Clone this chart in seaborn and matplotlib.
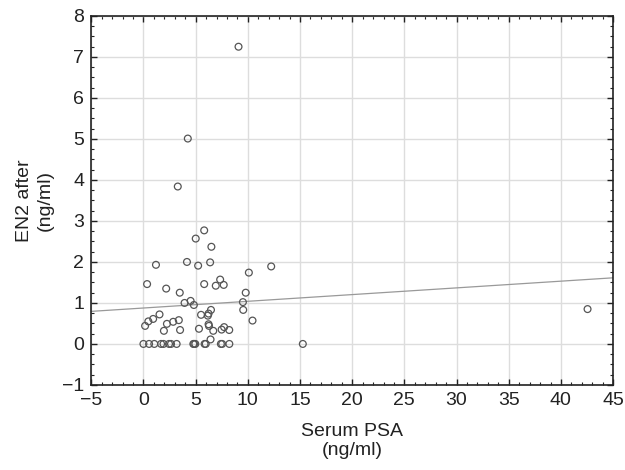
import numpy as np
import pandas as pd
import matplotlib
matplotlib.use("Agg")
import matplotlib.pyplot as plt
from matplotlib.ticker import MultipleLocator
import seaborn as sns

# serum PSA (ng/ml) and EN2 after (ng/ml)
psa = [0.0, 0.54, 1.04, 1.69, 1.92, 2.45, 2.64, 3.18, 4.78, 4.86, 4.97, 5.86,
       5.97, 7.42, 7.54, 8.23, 15.27,
       9.11, 4.25, 3.29, 5.82, 5.01, 6.51, 1.20, 4.17, 5.24, 6.39, 12.24, 10.10,
       7.35, 0.35, 5.82, 6.93, 7.69, 2.18, 3.48, 9.80, 4.52, 3.94, 4.83, 9.53,
       9.56, 6.47, 6.24, 5.52, 6.17, 1.54, 0.93, 0.47, 0.16, 2.25, 2.85, 3.39,
       1.96, 3.51, 6.24, 6.28, 5.32, 6.69, 7.49, 7.73, 8.22, 10.45, 6.43, 42.55]
en2 = [0, 0, 0, 0, 0, 0, 0, 0, 0, 0, 0, 0,
       0, 0, 0, 0, 0,
       7.25, 5.01, 3.84, 2.77, 2.57, 2.37, 1.93, 2.00, 1.91, 1.99, 1.89, 1.74,
       1.57, 1.46, 1.46, 1.42, 1.44, 1.35, 1.25, 1.25, 1.05, 1.00, 0.95, 1.02,
       0.83, 0.83, 0.74, 0.71, 0.69, 0.72, 0.61, 0.55, 0.44, 0.49, 0.54, 0.58,
       0.32, 0.34, 0.48, 0.44, 0.37, 0.32, 0.35, 0.41, 0.34, 0.57, 0.11, 0.85]

df = pd.DataFrame({"psa": psa, "en2": en2})

sns.set_style("whitegrid")
plt.rcParams['font.family'] = ['Liberation Sans', 'DejaVu Sans']

fig = plt.figure(figsize=(6.25, 4.7), dpi=100)
ax = fig.add_axes([0.146, 0.181, 0.835, 0.785])

# limits first so the fitted line spans the whole axis
ax.set_xlim(-5, 45)
ax.set_ylim(-1, 8)

sns.regplot(data=df, x="psa", y="en2", scatter=False, ci=None, truncate=False,
            line_kws={"color": "#999999", "lw": 0.9}, ax=ax)
sns.scatterplot(data=df, x="psa", y="en2", marker="o", s=24,
                facecolor="none", edgecolor="#555555", linewidth=0.9, ax=ax, zorder=3)

ax.set_xlim(-5, 45)
ax.set_ylim(-1, 8)
ax.xaxis.set_major_locator(MultipleLocator(5))
ax.xaxis.set_minor_locator(MultipleLocator(1))
ax.yaxis.set_major_locator(MultipleLocator(1))
ax.yaxis.set_minor_locator(MultipleLocator(0.25))
ax.grid(True, which="major", color="#dddddd", lw=1.0)
ax.grid(False, which="minor")
for sp in ax.spines.values():
    sp.set_color("#222222")
    sp.set_linewidth(1.2)
ax.tick_params(which="both", direction="in", top=True, right=True,
               bottom=True, left=True, color="#222222")
ax.tick_params(which="major", length=4, width=1.0, labelsize=14, pad=5,
               labelcolor="#222222")
ax.tick_params(which="minor", length=2.5, width=0.8)

ax.set_xlabel("Serum PSA\n(ng/ml)", fontsize=14, color="#222222", labelpad=10,
              linespacing=1.15)
ax.set_ylabel("EN2 after\n(ng/ml)", fontsize=14, color="#222222", labelpad=6,
              linespacing=1.3)

fig.savefig("out.png", dpi=100)
